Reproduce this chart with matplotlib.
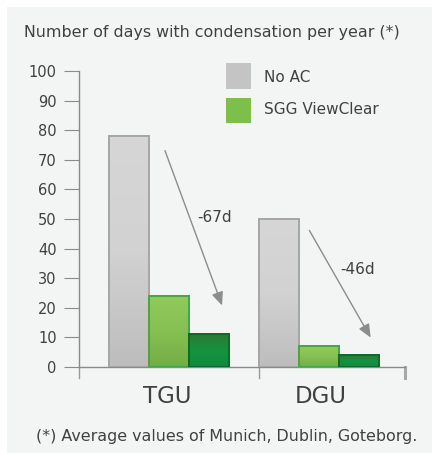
import numpy as np
import matplotlib.pyplot as plt
from matplotlib.patches import Rectangle
from matplotlib.colors import LinearSegmentedColormap

# data
groups = ["TGU", "DGU"]
no_ac = [78, 50]
viewclear_light = [24, 7]
viewclear_dark = [11, 4]
reductions = ["-67d", "-46d"]
yticks = [0, 10, 20, 30, 40, 50, 60, 70, 80, 90, 100]

txt = "#404040"
axc = "#8a8a8a"

fig = plt.figure(figsize=(4.32, 4.55), dpi=100)
fig.patch.set_facecolor("white")

# light grey panel behind everything
bg = fig.add_axes([0, 0, 1, 1])
bg.set_xlim(0, 432)
bg.set_ylim(455, 0)
bg.axis("off")
bg.add_patch(Rectangle((7, 7), 425, 446, facecolor="#f3f4f4", edgecolor="none"))

# main axes: y from 367 (0) to 71 (100), x from 79 to 405 px
W, H = 432, 455
x0, x1, ytop, ybot = 79, 405, 71, 367
ax = fig.add_axes([x0 / W, 1 - ybot / H, (x1 - x0) / W, (ybot - ytop) / H])
ax.patch.set_alpha(0)
unit = 150.0  # px per group step
left = (x0 - 169) / unit
right = (x1 - 169) / unit
ax.set_xlim(left, right)
ax.set_ylim(0, 100)

bw = 40 / unit
pos = [0, 1]
series = [
    (no_ac, -bw, ["#bdbdbd", "#d2d2d2", "#d6d6d6"], "#a6a6a6"),
    (viewclear_light, 0, ["#74ad45", "#86c052", "#93c95d"], "#45a54a"),
    (viewclear_dark, bw, ["#0f8a40", "#16923f", "#2a7a35"], "#0b6b2c"),
]
grad = np.linspace(0, 1, 64).reshape(-1, 1)
for vals, off, cols, ec in series:
    cmap = LinearSegmentedColormap.from_list("g", cols)
    for p, v in zip(pos, vals):
        b = ax.bar(p + off, v, width=bw, color=cols[1], edgecolor=ec, linewidth=1.4, zorder=3)[0]
        im = ax.imshow(grad, cmap=cmap, aspect="auto", origin="lower",
                       extent=(p + off - bw / 2, p + off + bw / 2, 0, v), zorder=3.5)
        im.set_clip_path(b)
        ax.bar(p + off, v, width=bw, color="none", edgecolor=ec, linewidth=1.4, zorder=4)
ax.set_xlim(left, right)
ax.set_ylim(0, 100)

for s in ["top", "right"]:
    ax.spines[s].set_visible(False)
ax.spines["left"].set_color(axc)
ax.spines["bottom"].set_color(axc)
ax.spines["left"].set_linewidth(1)
ax.spines["bottom"].set_linewidth(1)
ax.set_yticks(yticks)
ax.set_yticklabels([str(t) for t in yticks], fontsize=10.5, color=txt)
ax.tick_params(axis="y", length=11, color=axc, pad=5)
ax.set_xticks([])

# separators below the axis
sep = [left, (259 - 169) / unit, right]
for i, s in enumerate(sep):
    ax.plot([s, s], [0, -3.8], color="#9a9a9a" if i < 2 else "#a8a8a8",
            lw=1 if i < 2 else 2.2, clip_on=False, zorder=2)

for p, g in zip([(167 - 169) / unit, (321 - 169) / unit], groups):
    ax.text(p, -10, g, ha="center", va="center", fontsize=16.5, color=txt)

# reduction arrows
arrows = [((164 - 169) / unit, 148, (223 - 169) / unit, 308, (215 - 169) / unit, 218),
          ((308 - 169) / unit, 228, (372 - 169) / unit, 340, (358 - 169) / unit, 270)]
for (xs, ys, xe, ye, xt, yt), lab in zip(arrows, reductions):
    ax.annotate("", xy=(xe, (ybot - ye) / 2.96), xytext=(xs, (ybot - ys) / 2.96),
                arrowprops=dict(arrowstyle="-|>,head_length=0.8,head_width=0.35",
                                color="#8c8c8c", lw=1), zorder=5)
    ax.text(xt, (ybot - yt) / 2.96, lab, ha="center", va="center", fontsize=11, color=txt)

# legend drawn in figure pixel space
bg.add_patch(Rectangle((226, 63), 25, 26, facecolor="#c4c4c4", edgecolor="none"))
bg.add_patch(Rectangle((226, 98), 25, 25, facecolor="#7cbf4c", edgecolor="none"))
bg.text(264, 77, "No AC", fontsize=11, color=txt, va="center")
bg.text(264, 110, "SGG ViewClear", fontsize=11, color=txt, va="center")

bg.text(24, 33, "Number of days with condensation per year (*)", fontsize=11.4,
        color=txt, va="center")
bg.text(36, 436, "(*) Average values of Munich, Dublin, Goteborg.", fontsize=11.4,
        color=txt, va="center")

fig.savefig("out.png", dpi=100)
